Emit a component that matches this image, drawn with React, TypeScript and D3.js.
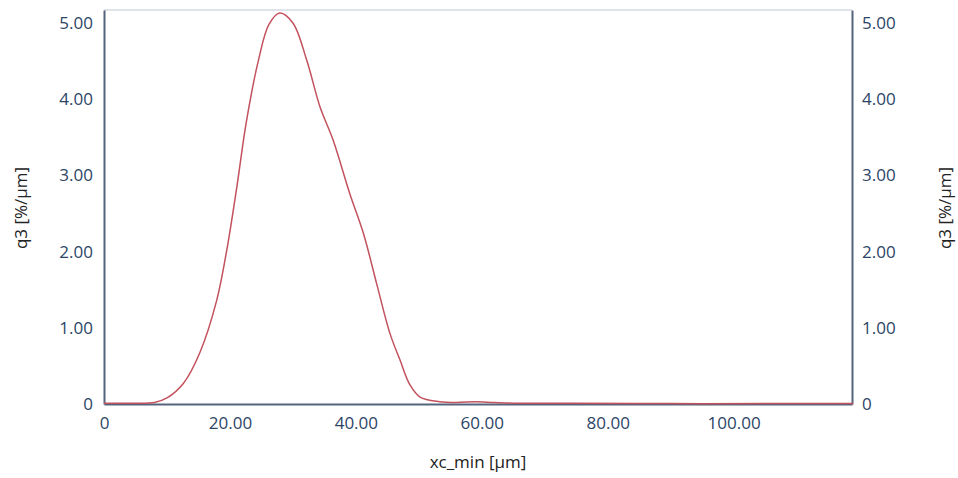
import React, { useEffect, useRef } from "react";
import * as d3 from "d3";

// particle size (xc_min) in µm
const xcMin = [0, 4, 8, 10, 12.6, 15.2, 17.9, 19.5, 21.1, 22.6, 24.5, 26.2, 27.9, 30.0, 32.2, 34.3, 36.4, 39.0, 41.2, 43.3, 45.4, 47.0, 48.6, 50.2, 53.3, 56, 59, 62, 66, 75, 90, 105, 119];
// density distribution q3 in %/µm
const q3 = [0.01, 0.01, 0.02, 0.08, 0.27, 0.67, 1.36, 2.02, 2.85, 3.7, 4.5, 4.98, 5.13, 5.0, 4.51, 3.9, 3.46, 2.77, 2.24, 1.58, 0.93, 0.58, 0.25, 0.09, 0.03, 0.02, 0.03, 0.02, 0.01, 0.01, 0.005, 0.005, 0.005];

const xTicks = [0, 20, 40, 60, 80, 100];
const yTicks = [0, 1, 2, 3, 4, 5];

function App() {
  const ref = useRef<SVGSVGElement>(null);

  const width = 958;
  const height = 478;
  const margin = { top: 10, right: 106, bottom: 74, left: 104 };

  useEffect(() => {
    const svg = d3.select(ref.current);
    svg.selectAll("*").remove();

    const x = d3.scaleLinear().domain([0, 118.8]).range([margin.left, width - margin.right]);
    const y = d3.scaleLinear().domain([0, 5.17]).range([height - margin.bottom, margin.top]);

    const fmt = (d: number) => (d === 0 ? "0" : d3.format(".2f")(d));
    const font = "'Open Sans', 'Noto Sans', sans-serif";
    const labelColor = "#2c4566";
    const axisColor = "#53657d";

    // top border
    svg.append("line")
      .attr("x1", margin.left).attr("x2", width - margin.right)
      .attr("y1", margin.top).attr("y2", margin.top)
      .attr("stroke", "#d6dae2").attr("stroke-width", 1.5);

    const xAxis = svg.append("g")
      .attr("transform", `translate(0, ${height - margin.bottom})`)
      .call(d3.axisBottom(x).tickValues(xTicks).tickFormat(fmt as any).tickSize(0).tickPadding(13));
    const yLeft = svg.append("g")
      .attr("transform", `translate(${margin.left}, 0)`)
      .call(d3.axisLeft(y).tickValues(yTicks).tickFormat(fmt as any).tickSize(0).tickPadding(11));
    const yRight = svg.append("g")
      .attr("transform", `translate(${width - margin.right}, 0)`)
      .call(d3.axisRight(y).tickValues(yTicks).tickFormat(fmt as any).tickSize(0).tickPadding(10));

    [xAxis, yLeft, yRight].forEach((g) => {
      g.select(".domain").attr("stroke", axisColor).attr("stroke-width", 2);
      g.selectAll("text")
        .attr("fill", labelColor)
        .style("font-family", font)
        .style("font-size", "17px");
    });

    const line = d3.line<number>()
      .x((d, i) => x(xcMin[i]))
      .y((d) => y(d))
      .curve(d3.curveCatmullRom.alpha(0.5));

    svg.append("path")
      .datum(q3)
      .attr("fill", "none")
      .attr("stroke", "#c2525e")
      .attr("stroke-width", 1.5)
      .attr("d", line);

    // axis titles
    svg.append("text")
      .attr("transform", `translate(27, 208) rotate(-90)`)
      .attr("text-anchor", "middle")
      .attr("fill", "#222")
      .style("font-family", font)
      .style("font-size", "17px")
      .text("q3 [%/µm]");
    svg.append("text")
      .attr("transform", `translate(951, 208) rotate(-90)`)
      .attr("text-anchor", "middle")
      .attr("fill", "#222")
      .style("font-family", font)
      .style("font-size", "17px")
      .text("q3 [%/µm]");
    svg.append("text")
      .attr("x", 478)
      .attr("y", 468)
      .attr("text-anchor", "middle")
      .attr("fill", "#222")
      .style("font-family", font)
      .style("font-size", "17px")
      .text("xc_min [µm]");
  }, []);

  return (
    <svg
      ref={ref}
      width={width}
      height={height}
      style={{ position: "absolute", left: 0, top: 0, background: "#fff" }}
    ></svg>
  );
}

export default App;
